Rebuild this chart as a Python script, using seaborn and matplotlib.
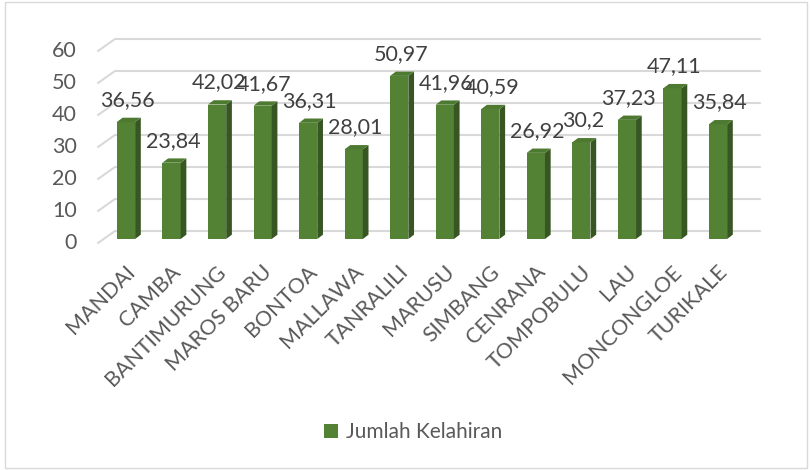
import matplotlib
matplotlib.use("Agg")
import matplotlib.pyplot as plt
import matplotlib.transforms as mtransforms
from matplotlib.patches import Polygon, Rectangle, Patch
from matplotlib.lines import Line2D
import seaborn as sns
import pandas as pd

kecamatan = ["MANDAI", "CAMBA", "BANTIMURUNG", "MAROS BARU", "BONTOA", "MALLAWA",
             "TANRALILI", "MARUSU", "SIMBANG", "CENRANA", "TOMPOBULU", "LAU",
             "MONCONGLOE", "TURIKALE"]
kelahiran = [36.56, 23.84, 42.02, 41.67, 36.31, 28.01, 50.97, 41.96, 40.59,
             26.92, 30.2, 37.23, 47.11, 35.84]
yticks = [0, 10, 20, 30, 40, 50, 60]
series_name = "Jumlah Kelahiran"

FRONT = "#548235"
SIDE = "#375623"
TOP = "#4d7a30"
GRID = "#d9d9d9"
TXT = "#595959"

sns.set_style("white")
plt.rcParams["font.family"] = ["Lato", "DejaVu Sans"]

W, H = 812, 470
fig = plt.figure(figsize=(W / 100, H / 100), dpi=100)
ax_l, ax_r, ax_top, ax_bot = 98, 760, 36, 243
ax = fig.add_axes([ax_l / W, (H - ax_bot) / H, (ax_r - ax_l) / W, (ax_bot - ax_top) / H])

df = pd.DataFrame({"kecamatan": kecamatan, "nilai": kelahiran})
sns.barplot(data=df, x="kecamatan", y="nilai", color=FRONT, saturation=1,
            width=0.4, ax=ax, zorder=3, linewidth=0)

pxu = 45.54
ax.set_xlim(-(126 - ax_l) / pxu, len(kecamatan) - 1 + (ax_r - 718) / pxu)
ypx = 3.2
ax.set_ylim(-(ax_bot - 239) / ypx, (239 - ax_top) / ypx)
for s in ax.spines.values():
    s.set_visible(False)
ax.set_xlabel("")
ax.set_ylabel("")
ax.set_yticks([])
ax.tick_params(axis="x", length=0, pad=13.5)
ax.set_xticks(range(len(kecamatan)))
ax.set_xticklabels(kecamatan, rotation=45, ha="right", va="top",
                   rotation_mode="anchor", fontsize=15.5, color=TXT)
for lab in ax.get_xticklabels():
    lab.set_transform(lab.get_transform() + mtransforms.ScaledTranslation(-1 / 100, 0, fig.dpi_scale_trans))

ident = mtransforms.IdentityTransform()
DX, DY = 5.7, 4.3
GBX, GBY, GFY = 17, 8, 4

for v in yticks:
    _, yd = ax.transData.transform((0, v))
    x0 = ax.transAxes.transform((0, 0))[0]
    x1 = ax.transAxes.transform((1, 0))[0]
    ax.add_line(Line2D([x0, x0 + GBX, x1], [yd - GFY, yd + GBY, yd + GBY],
                       transform=ident, color=GRID, lw=1.5, zorder=1, clip_on=False))
    ax.annotate(str(v), xy=(0, v), xycoords=("axes fraction", "data"),
                xytext=(-21 * 0.72, -GFY * 0.72), textcoords="offset points",
                ha="right", va="center", fontsize=15.5, color=TXT)

for p in ax.patches:
    x, y = p.get_x(), p.get_height()
    w = p.get_width()
    (xa, yb) = ax.transData.transform((x, 0))
    (xb, yt) = ax.transData.transform((x + w, y))
    side = Polygon([(xb, yb), (xb + DX, yb + DY), (xb + DX, yt + DY), (xb, yt)],
                   closed=True, transform=ident, facecolor=SIDE, edgecolor="none", zorder=3)
    top = Polygon([(xa, yt), (xa + DX, yt + DY), (xb + DX, yt + DY), (xb, yt)],
                  closed=True, transform=ident, facecolor=TOP, edgecolor="none", zorder=3)
    ax.add_patch(side)
    ax.add_patch(top)

for i, v in enumerate(kelahiran):
    ax.annotate(f"{v:g}".replace(".", ","), xy=(i, v), xycoords="data",
                xytext=(1.5 * 0.72, 16 * 0.72), textcoords="offset points",
                ha="center", va="baseline", fontsize=15.5, color="#404040", zorder=5)

handle = Patch(facecolor=FRONT, edgecolor="none", label=series_name)
fig.legend(handles=[handle], loc="center", bbox_to_anchor=(413 / W, 38 / H),
           frameon=False, fontsize=15, handlelength=0.68, handleheight=0.68,
           handletextpad=0.35, labelcolor=TXT)

fig.patches.append(Rectangle((5 / W, 2 / H), (807 - 5) / W, (468 - 2) / H,
                             transform=fig.transFigure, fill=False,
                             edgecolor=GRID, lw=1))

fig.savefig("out.png", dpi=100)
